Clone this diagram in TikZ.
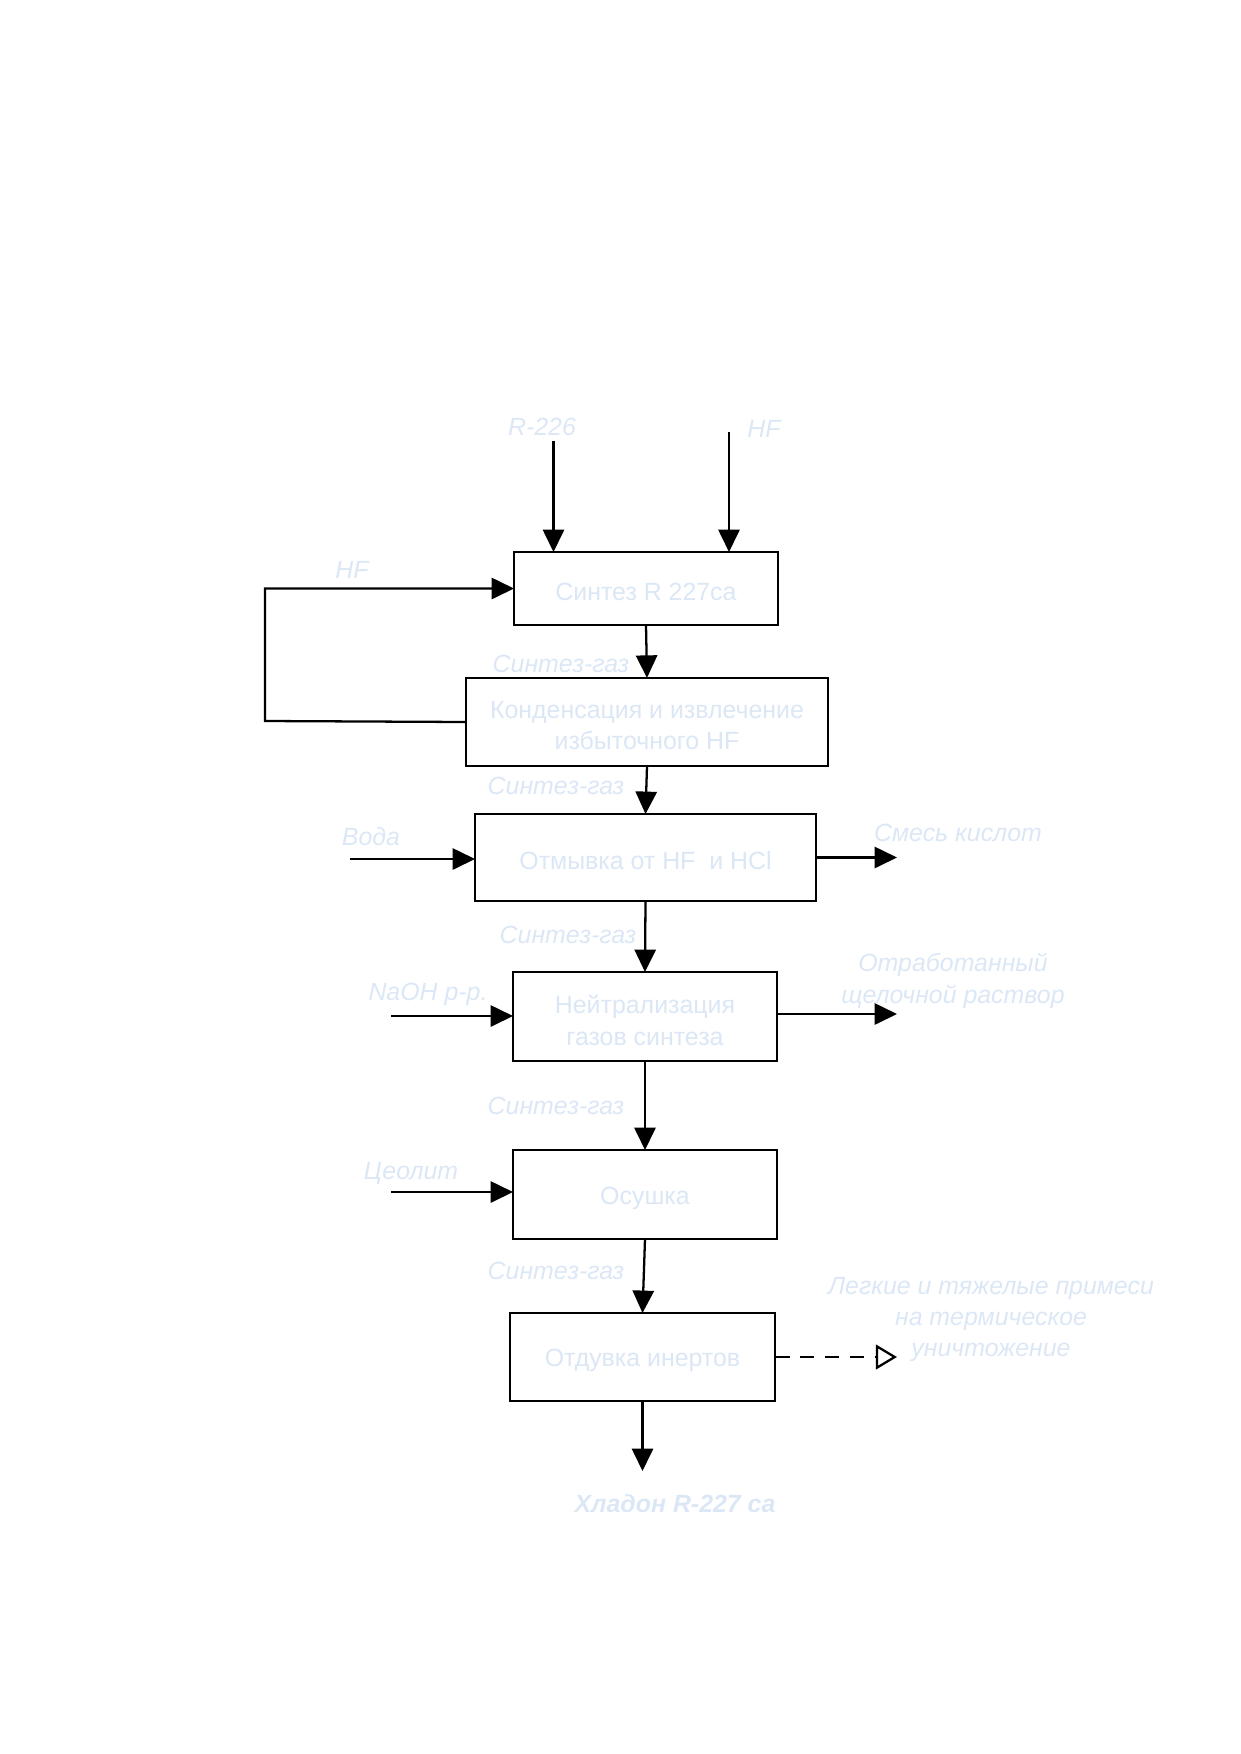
\documentclass[tikz,border=0pt]{standalone}
\usepackage{fontspec}
\setmainfont{Liberation Sans}
\usetikzlibrary{arrows.meta}
\definecolor{txtc}{RGB}{220,231,246}
\newcommand{\dn}[1]{\raisebox{-1.7pt}[\height][\depth]{#1}}
\tikzset{
  box/.style={draw=black, line width=0.8pt, fill=white, inner sep=0pt, outer sep=0pt,
    align=center, text=txtc, font=\fontsize{12}{15.5}\selectfont},
  lbl/.style={text=txtc, font=\fontsize{12}{15.5}\selectfont\itshape, align=center, inner sep=0pt},
  arr/.style={line width=1.1pt, -{Triangle[length=0.38cm,width=0.36cm]}},
  oarr/.style={line width=1.1pt, dashed, dash pattern=on 7pt off 5pt, -{Triangle[open,length=0.36cm,width=0.42cm,line width=1.1pt]}},
}
\begin{document}
\begin{tikzpicture}[x=0.016935cm, y=-0.016935cm]
\useasboundingbox (0,0) rectangle (1240,1754);
% boxes
\node[box, minimum width=4.471cm, minimum height=1.236cm] (b1) at (646,588.5) {\dn{Синтез R 227ca}};
\node[box, font=\fontsize{12}{14.6}\selectfont, minimum width=6.139cm, minimum height=1.497cm] (b2) at (647,722) {\dn{Конденсация и извлечение}\\\dn{избыточного HF}};
\node[box, minimum width=5.775cm, minimum height=1.473cm] (b3) at (645.5,857.5) {\dn{Отмывка от HF\ \ и HCl}};
\node[box, minimum width=4.471cm, minimum height=1.507cm] (b4) at (645,1016.5) {\dn{Нейтрализация}\\\dn{газов синтеза}};
\node[box, minimum width=4.471cm, minimum height=1.507cm] (b5) at (645,1194.5) {\dn{Осушка}};
\node[box, minimum width=4.488cm, minimum height=1.490cm] (b6) at (642.5,1357) {\dn{Отдувка инертов}};
% labels
\node[lbl] (lr226) at (542,427) {R-226};
\node[lbl] (lhf1) at (764,429) {HF};
\node[lbl] (lhf2) at (352,570) {HF};
\node[lbl] (lsg1) at (561,664) {Синтез-газ};
\node[lbl] (lsg2) at (556,786) {Синтез-газ};
\node[lbl] (lvoda) at (371,837) {Вода};
\node[lbl] (lacid) at (958,833) {Смесь кислот};
\node[lbl] (lsg3) at (568,935) {Синтез-газ};
\node[lbl] (lnaoh) at (428,994) {NaOH р-р.};
\node[lbl] (lwaste) at (953,980.5) {Отработанный\\щелочной раствор};
\node[lbl] (lsg4) at (556,1106) {Синтез-газ};
\node[lbl] (lzeo) at (411,1173) {Цеолит};
\node[lbl] (lsg5) at (556,1271) {Синтез-газ};
\node[lbl, font=\fontsize{12}{14.8}\selectfont\itshape] (limp) at (991,1319.5) {Легкие и тяжелые примеси\\на термическое\\уничтожение};
\node[lbl, font=\fontsize{12}{15.5}\selectfont\itshape\bfseries] (lprod) at (675,1504) {Хладон R-227 ca};
% connector end points
\coordinate (r226s) at (553.5,440.5);
\coordinate (hf1s) at (729,431.6);
\coordinate (fbL) at (265,721);
\coordinate (vodaS) at (350,859);
\coordinate (acidE) at (897,857.5);
\coordinate (naohS) at (391,1016);
\coordinate (wasteE) at (897,1014);
\coordinate (zeoS) at (391,1192);
\coordinate (impE) at (897,1357);
\coordinate (prodE) at (643,1471);
% connectors
\draw[arr] (r226s) -- (r226s |- b1.north);
\draw[arr] (hf1s) -- (hf1s |- b1.north);
\draw[arr] (b2.west) -- (fbL) |- (b1.west);
\draw[arr] (b1.south) -- (b2.north);
\draw[arr] (b2.south) -- (b3.north);
\draw[arr] (b3.south) -- (b4.north);
\draw[arr] (b4.south) -- (b5.north);
\draw[arr] (b5.south) -- (b6.north);
\draw[arr] (vodaS) -- (vodaS -| b3.west);
\draw[arr] (b3.east |- acidE) -- (acidE);
\draw[arr] (naohS) -- (naohS -| b4.west);
\draw[arr] (b4.east |- wasteE) -- (wasteE);
\draw[arr] (zeoS) -- (zeoS -| b5.west);
\draw[oarr] (b6.east |- impE) -- (impE);
\draw[arr] (b6.south) -- (b6.south |- prodE);
\end{tikzpicture}
\end{document}
